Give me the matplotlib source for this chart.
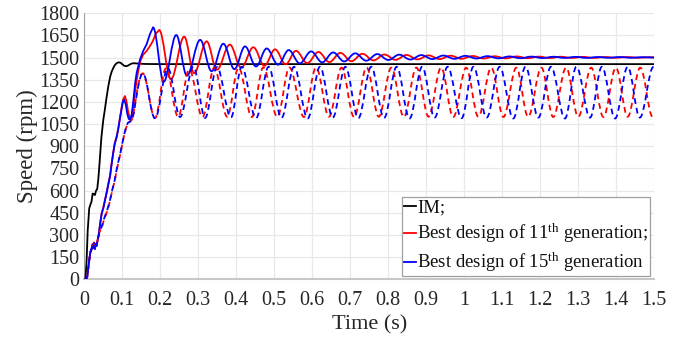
import matplotlib
matplotlib.use("Agg")
import matplotlib.pyplot as plt
from matplotlib.path import Path
from matplotlib.patches import PathPatch
from matplotlib.lines import Line2D
from matplotlib.ticker import FixedLocator, FixedFormatter

plt.rcParams['font.family'] = ['Liberation Serif', 'DejaVu Serif']
plt.rcParams['mathtext.fontset'] = 'custom'
plt.rcParams['mathtext.rm'] = 'Liberation Serif'
plt.rcParams['mathtext.it'] = 'Liberation Serif:italic'

# ---------------- data ----------------
x_ticks = [0, 0.1, 0.2, 0.3, 0.4, 0.5, 0.6, 0.7, 0.8, 0.9, 1.0, 1.1, 1.2, 1.3, 1.4, 1.5]
x_tick_labels = ["0", "0.1", "0.2", "0.3", "0.4", "0.5", "0.6", "0.7", "0.8", "0.9",
                 "1", "1.1", "1.2", "1.3", "1.4", "1.5"]
y_ticks = [0, 150, 300, 450, 600, 750, 900, 1050, 1200, 1350, 1500, 1650, 1800]
y_tick_labels = [str(v) for v in y_ticks]

labels = ["IM;", r"Best design of 11$^{\mathrm{th}}$ generation;",
          r"Best design of 15$^{\mathrm{th}}$ generation"]

# IM (black)
im_t = [0, 0.003, 0.006, 0.009, 0.013, 0.016, 0.019, 0.022, 0.025, 0.028, 0.031, 0.034,
        0.037, 0.040, 0.045, 0.050, 0.054, 0.058, 0.063, 0.068, 0.072, 0.076, 0.080,
        0.085, 0.090, 0.095, 0.100, 0.105, 0.110, 0.115, 0.120, 0.125, 0.130, 0.140,
        0.160, 0.200, 1.500]
im_v = [0, 0, 120, 330, 480, 505, 525, 580, 575, 570, 600, 610,
        680, 780, 960, 1078, 1146, 1220, 1303, 1370, 1405, 1428, 1448,
        1462, 1468, 1466, 1455, 1445, 1442, 1446, 1454, 1460, 1462, 1460,
        1457, 1456, 1456]

# Best design of 11th generation, solid (red): start-up, then successive extrema
r11_ramp_t = [0, 0.005, 0.008, 0.012, 0.016, 0.019, 0.022, 0.024, 0.026, 0.028, 0.030,
              0.032, 0.035, 0.038, 0.042, 0.046, 0.050, 0.055, 0.060, 0.063, 0.068,
              0.072, 0.076, 0.080, 0.085, 0.089, 0.094, 0.098, 0.102, 0.107, 0.111,
              0.115, 0.119, 0.124, 0.129, 0.133, 0.138, 0.142, 0.148, 0.155, 0.164,
              0.172, 0.180, 0.188]
r11_ramp_v = [0, 0, 20, 110, 180, 200, 240, 215, 250, 215, 240,
              230, 265, 300, 385, 450, 485, 545, 600, 645, 705,
              785, 855, 920, 965, 1015, 1095, 1160, 1215, 1240, 1205,
              1140, 1095, 1090, 1160, 1260, 1350, 1410, 1480, 1520, 1545,
              1575, 1610, 1660]
r11_ext_t = [0.197, 0.228, 0.263, 0.289, 0.322, 0.349, 0.383, 0.413, 0.445, 0.474,
             0.502, 0.530, 0.557, 0.587, 0.616, 0.645, 0.674, 0.703, 0.732, 0.761,
             0.790, 0.819, 0.848, 0.877, 0.906, 0.935, 0.964, 0.993, 1.022, 1.051,
             1.080, 1.109, 1.138, 1.167, 1.196, 1.225, 1.254, 1.283, 1.312, 1.341,
             1.370, 1.399, 1.428, 1.457, 1.486, 1.500]
r11_ext_v = [1687, 1353, 1642, 1395, 1610, 1418, 1588, 1432, 1570, 1445,
             1556, 1455, 1546, 1463, 1538, 1470, 1532, 1476, 1526, 1481,
             1521, 1485, 1518, 1488, 1515, 1490, 1513, 1492, 1511, 1494,
             1509, 1495, 1508, 1496, 1507, 1497, 1506, 1498, 1505, 1498,
             1504, 1499, 1504, 1499, 1503, 1502]

# Best design of 15th generation, solid (blue)
b15_ramp_t = [0, 0.005, 0.008, 0.012, 0.016, 0.019, 0.022, 0.024, 0.026, 0.028, 0.030,
              0.032, 0.035, 0.038, 0.042, 0.046, 0.050, 0.055, 0.060, 0.063, 0.068,
              0.072, 0.076, 0.080, 0.085, 0.089, 0.094, 0.098, 0.102, 0.105, 0.109,
              0.113, 0.117, 0.121, 0.125, 0.130, 0.134, 0.138, 0.142, 0.147, 0.155,
              0.164, 0.173]
b15_ramp_v = [0, 0, 20, 110, 185, 205, 235, 210, 245, 205, 240,
              225, 262, 300, 380, 446, 480, 540, 600, 638, 700,
              780, 852, 915, 960, 1010, 1090, 1150, 1205, 1215, 1185,
              1120, 1085, 1080, 1120, 1230, 1330, 1400, 1440, 1490, 1545,
              1590, 1660]
b15_ext_t = [0.181, 0.209, 0.242, 0.270, 0.305, 0.335, 0.366, 0.395, 0.423, 0.452,
             0.480, 0.510, 0.538, 0.567, 0.597, 0.626, 0.655, 0.684, 0.713, 0.742,
             0.771, 0.800, 0.829, 0.858, 0.887, 0.916, 0.945, 0.974, 1.003, 1.032,
             1.061, 1.090, 1.119, 1.148, 1.177, 1.206, 1.235, 1.264, 1.293, 1.322,
             1.351, 1.380, 1.409, 1.438, 1.467, 1.500]
b15_ext_v = [1705, 1337, 1653, 1378, 1620, 1408, 1594, 1422, 1576, 1440,
             1562, 1452, 1551, 1461, 1542, 1468, 1535, 1474, 1529, 1479,
             1524, 1484, 1520, 1487, 1517, 1490, 1514, 1492, 1512, 1494,
             1510, 1495, 1508, 1496, 1507, 1497, 1506, 1498, 1505, 1498,
             1504, 1499, 1504, 1499, 1503, 1500]

# dashed curves (same designs, second condition): start-up then extrema
r11d_ramp_t = [0, 0.005, 0.008, 0.012, 0.016, 0.019, 0.022, 0.024, 0.026, 0.028, 0.030,
               0.032, 0.035, 0.040, 0.046, 0.052, 0.058, 0.063, 0.068, 0.074, 0.080,
               0.085, 0.090, 0.095, 0.100, 0.105, 0.110, 0.115, 0.120, 0.125, 0.130,
               0.135, 0.140, 0.145, 0.150]
r11d_ramp_v = [0, 0, 20, 110, 180, 200, 240, 215, 250, 215, 240,
               230, 265, 320, 350, 405, 445, 485, 535, 605, 665,
               735, 795, 850, 915, 975, 1025, 1055, 1068, 1078, 1130,
               1210, 1290, 1350, 1385]
r11d_ext_t = [0.154, 0.186, 0.215, 0.247, 0.276, 0.311, 0.342, 0.376, 0.406, 0.441,
              0.471, 0.508, 0.540, 0.578, 0.610, 0.644, 0.677, 0.710, 0.743, 0.775,
              0.808, 0.841, 0.874, 0.906, 0.939, 0.971, 1.005, 1.037, 1.071, 1.103,
              1.137, 1.168, 1.203, 1.234, 1.268, 1.300, 1.334, 1.366, 1.399, 1.430,
              1.463, 1.496]
r11d_ext_v = [1394, 1090, 1428, 1100, 1420, 1098, 1432, 1100, 1432, 1098,
              1434, 1100, 1433, 1098, 1433, 1100, 1432, 1098, 1433, 1100,
              1432, 1098, 1433, 1100, 1432, 1098, 1432, 1100, 1432, 1098,
              1432, 1100, 1432, 1098, 1432, 1100, 1432, 1098, 1432, 1100,
              1432, 1098]

b15d_ramp_t = [0, 0.005, 0.008, 0.012, 0.016, 0.019, 0.022, 0.024, 0.026, 0.028, 0.030,
               0.032, 0.035, 0.040, 0.046, 0.052, 0.058, 0.063, 0.068, 0.074, 0.080,
               0.085, 0.090, 0.095, 0.100, 0.105, 0.110, 0.115, 0.120, 0.125, 0.130,
               0.135, 0.140, 0.145, 0.150]
b15d_ramp_v = [0, 0, 20, 110, 185, 205, 235, 210, 245, 205, 240,
               225, 262, 325, 356, 410, 450, 491, 540, 610, 670,
               740, 800, 855, 920, 980, 1030, 1060, 1066, 1075, 1120,
               1200, 1280, 1345, 1385]
b15d_ext_t = [0.154, 0.186, 0.220, 0.252, 0.287, 0.318, 0.349, 0.386, 0.414, 0.452,
              0.485, 0.519, 0.552, 0.588, 0.620, 0.654, 0.687, 0.721, 0.755, 0.789,
              0.822, 0.856, 0.889, 0.922, 0.956, 0.993, 1.024, 1.059, 1.093, 1.129,
              1.161, 1.195, 1.228, 1.265, 1.295, 1.331, 1.362, 1.397, 1.430, 1.462,
              1.498]
b15d_ext_v = [1394, 1090, 1428, 1098, 1439, 1092, 1436, 1095, 1438, 1090,
              1438, 1092, 1438, 1088, 1438, 1095, 1438, 1090, 1438, 1092,
              1438, 1088, 1438, 1094, 1438, 1090, 1438, 1094, 1438, 1088,
              1438, 1094, 1438, 1088, 1438, 1094, 1438, 1088, 1438, 1094,
              1438]

RED = "#ff0000"
BLUE = "#0000ff"


def curve_path(ramp_t, ramp_v, ext_t, ext_v, k=0.363):
    """Polyline through the start-up samples, then smooth cubic Bezier arcs
    between successive extrema (horizontal tangent at every extremum)."""
    verts = [(ramp_t[0], ramp_v[0])]
    codes = [Path.MOVETO]
    for t, v in zip(ramp_t[1:], ramp_v[1:]):
        verts.append((t, v))
        codes.append(Path.LINETO)
    verts.append((ext_t[0], ext_v[0]))
    codes.append(Path.LINETO)
    for i in range(len(ext_t) - 1):
        t0, v0, t1, v1 = ext_t[i], ext_v[i], ext_t[i + 1], ext_v[i + 1]
        dt = t1 - t0
        verts += [(t0 + k * dt, v0), (t1 - k * dt, v1), (t1, v1)]
        codes += [Path.CURVE4] * 3
    return Path(verts, codes)


fig = plt.figure(figsize=(6.92, 3.38), dpi=100)
ax = fig.add_axes([0.1218, 0.1737, 0.8237, 0.787])

ax.plot(im_t, im_v, color="black", lw=1.3, solid_joinstyle="round", zorder=3)

specs = [
    (r11_ramp_t, r11_ramp_v, r11_ext_t, r11_ext_v, RED, "-"),
    (b15_ramp_t, b15_ramp_v, b15_ext_t, b15_ext_v, BLUE, "-"),
    (r11d_ramp_t, r11d_ramp_v, r11d_ext_t, r11d_ext_v, RED, (0, (3.2, 2.2))),
    (b15d_ramp_t, b15d_ramp_v, b15d_ext_t, b15d_ext_v, BLUE, (0, (3.2, 2.2))),
]
for i, (rt, rv, et, ev, col, ls) in enumerate(specs):
    p = PathPatch(curve_path(rt, rv, et, ev), fill=False, edgecolor=col, lw=1.3,
                  linestyle=ls, joinstyle="round", capstyle="butt", zorder=4 + i)
    ax.add_patch(p)

ax.set_xlim(0, 1.5)
ax.set_ylim(0, 1800)
ax.xaxis.set_major_locator(FixedLocator(x_ticks))
ax.xaxis.set_major_formatter(FixedFormatter(x_tick_labels))
ax.yaxis.set_major_locator(FixedLocator(y_ticks))
ax.yaxis.set_major_formatter(FixedFormatter(y_tick_labels))

ax.grid(True, color="#e8e8e8", lw=0.9, zorder=0)
ax.set_axisbelow(True)
for s in ["top", "right"]:
    ax.spines[s].set_visible(False)
ax.spines["left"].set_color("#a0a0a0")
ax.spines["bottom"].set_color("#c8c8c8")
ax.spines["bottom"].set_linewidth(1.5)
ax.tick_params(length=0, labelsize=14.5, colors="#262626", pad=3.5)
ax.tick_params(axis="x", pad=8.5)

ax.set_xlabel("Time (s)", fontsize=16, color="#262626", labelpad=3.5)
ax.set_ylabel("Speed (rpm)", fontsize=16.5, color="#262626", labelpad=1)

handles = [Line2D([], [], color="black", lw=1.3),
           Line2D([], [], color=RED, lw=1.3),
           Line2D([], [], color=BLUE, lw=1.3)]
leg = ax.legend(handles, labels, loc="lower right", bbox_to_anchor=(0.993, 0.012),
                borderaxespad=0, fontsize=13.5, handlelength=0.65, handletextpad=0.05,
                labelspacing=0.3, borderpad=0.1, frameon=True, fancybox=False,
                framealpha=1, edgecolor="#a0a0a0")
leg.get_frame().set_linewidth(0.9)
for t in leg.get_texts():
    t.set_color("#111111")

fig.savefig("out.png", dpi=100)
